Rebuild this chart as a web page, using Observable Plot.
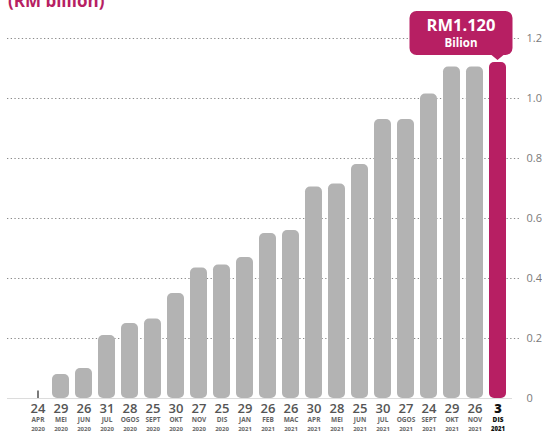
<!DOCTYPE html>
<html><head><meta charset="utf-8">
<script src="https://cdn.jsdelivr.net/npm/d3@7"></script>
<script src="https://cdn.jsdelivr.net/npm/@observablehq/plot@0.6"></script>
<style>
body{margin:0;background:#fff;}
#chart{width:542px;height:432px;overflow:hidden;position:relative;}
svg{font-family:"Open Sans",sans-serif;}
</style>
</head><body><div id="chart"></div>
<script>
const days = ["24","29","26","31","28","25","30","27","25","29","26","26","30","28","25","30","27","24","29","26","3"];
const months = ["APR","MEI","JUN","JUL","OGOS","SEPT","OKT","NOV","DIS","JAN","FEB","MAC","APR","MEI","JUN","JUL","OGOS","SEPT","OKT","NOV","DIS"];
const years = ["2020","2020","2020","2020","2020","2020","2020","2020","2020","2021","2021","2021","2021","2021","2021","2021","2021","2021","2021","2021","2021"];
const values = [0.025,0.08,0.10,0.21,0.25,0.265,0.35,0.435,0.445,0.47,0.55,0.56,0.705,0.715,0.78,0.93,0.93,1.015,1.105,1.105,1.12];
const yTicks = [0,0.2,0.4,0.6,0.8,1.0,1.2];
const titleText = "(RM billion)";
const calloutValue = "RM1.120";
const calloutUnit = "Bilion";

(function(){
const MAGENTA = "#b71f63";
const GRAY = "#b3b3b3";

const data = values.map((v,i)=>({key:`${days[i]} ${months[i]} ${years[i]}`, day:days[i], month:months[i], year:years[i], value:v, i, last:i===values.length-1}));
const keys = data.map(d=>d.key);
const firstD = data.filter(d=>d.i===0);
const barsD = data.filter(d=>d.i>0 && !d.last);
const lastD = data.filter(d=>d.last);
const normalLbl = data.filter(d=>!d.last);

const plot = Plot.plot({
  width:542, height:432,
  marginTop:38, marginBottom:34, marginLeft:19, marginRight:26,
  style:{fontFamily:"'Open Sans',sans-serif", background:"#fff"},
  x:{type:"band", domain:keys, padding:0.27, axis:null},
  y:{domain:[0,1.2], axis:null},
  marks:[
    Plot.ruleY(yTicks.filter(t=>t>0), {stroke:"#8a8a8a", strokeDasharray:"1.3 2.4", strokeWidth:1, insetLeft:-12, insetRight:-3}),
    Plot.ruleY([0], {stroke:"#dcdcdc", strokeWidth:1, insetLeft:-12, insetRight:4}),
    Plot.axisY(yTicks, {anchor:"right", label:null, tickSize:0, tickPadding:10, fontSize:11, fill:"#7a7a7a", tickFormat:d=>d===0?"0":d3.format(".1f")(d)}),
    Plot.ruleX(firstD, {x:"key", y1:0, y2:"value", stroke:"#222", strokeWidth:1.2}),
    Plot.barY(barsD, {x:"key", y:"value", fill:GRAY, rx:5}),
    Plot.barY(lastD, {x:"key", y:"value", fill:MAGENTA, rx:5}),
    Plot.text(normalLbl, {x:"key", text:"day", frameAnchor:"bottom", dy:14, fontSize:13, fontWeight:600, fill:"#555"}),
    Plot.text(normalLbl, {x:"key", text:"month", frameAnchor:"bottom", dy:23.5, fontSize:6.5, fontWeight:700, fill:"#666"}),
    Plot.text(normalLbl, {x:"key", text:"year", frameAnchor:"bottom", dy:32, fontSize:6, fontWeight:700, fill:"#666"}),
    Plot.text(lastD, {x:"key", text:"day", frameAnchor:"bottom", dy:14, fontSize:13, fontWeight:800, fill:"#111"}),
    Plot.text(lastD, {x:"key", text:"month", frameAnchor:"bottom", dy:23.5, fontSize:6.5, fontWeight:800, fill:"#111"}),
    Plot.text(lastD, {x:"key", text:"year", frameAnchor:"bottom", dy:32, fontSize:6, fontWeight:800, fill:"#111"})
  ]
});

const svg = d3.select(plot);
const xs = plot.scale("x"), ys = plot.scale("y");
const last = lastD[0];
const cx = xs.apply(last.key) + xs.bandwidth/2;
const barTop = ys.apply(last.value);
const bl = cx - 88, br = cx + 15, bt = barTop - 51, bb = barTop - 7, tip = barTop - 2, r = 7;
const p = d3.path();
p.moveTo(bl + r, bt);
p.lineTo(br - r, bt);
p.arcTo(br, bt, br, bt + r, r);
p.lineTo(br, bb - r);
p.arcTo(br, bb, br - r, bb, r);
p.lineTo(cx + 6, bb);
p.lineTo(cx, tip);
p.lineTo(cx - 6, bb);
p.lineTo(bl + r, bb);
p.arcTo(bl, bb, bl, bb - r, r);
p.lineTo(bl, bt + r);
p.arcTo(bl, bt, bl + r, bt, r);
p.closePath();
const g = svg.append("g");
g.append("path").attr("d", p.toString()).attr("fill", MAGENTA);
const mid = (bl + br) / 2;
g.append("text").attr("x", mid).attr("y", bt + 20).attr("text-anchor","middle").attr("fill","#fff").attr("font-size",16.5).attr("font-weight",700).text(calloutValue);
g.append("text").attr("x", mid).attr("y", bt + 36).attr("text-anchor","middle").attr("fill","#fff").attr("font-size",11.5).attr("font-weight",700).text(calloutUnit);
svg.append("text").attr("x", 8).attr("y", 7).attr("text-anchor","start").attr("fill", MAGENTA).attr("font-size", 17).attr("font-weight", 700).text(titleText);

document.getElementById("chart").appendChild(plot);
})();
</script>
</body></html>
